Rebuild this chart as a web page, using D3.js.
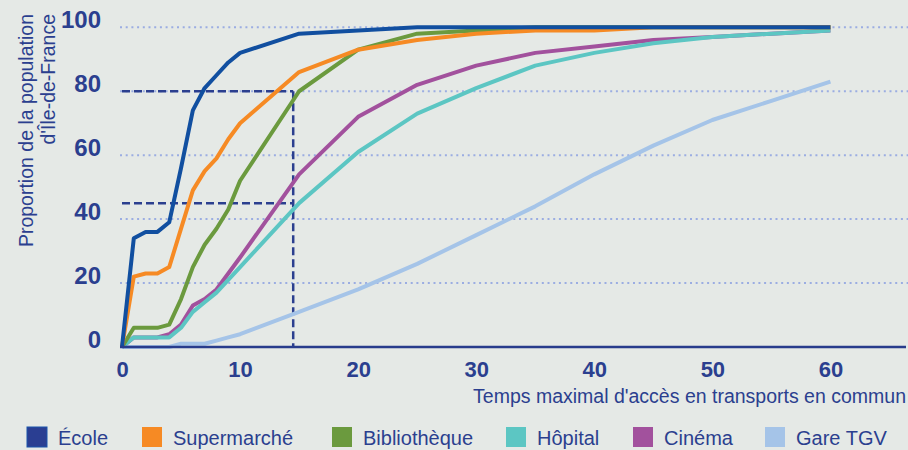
<!DOCTYPE html>
<html>
<head>
<meta charset="utf-8">
<script src="https://cdn.jsdelivr.net/npm/d3@7"></script>
<style>
  html, body { margin: 0; padding: 0; background: #e5e9e6; }
  svg { display: block; font-family: 'Liberation Sans', Arial, sans-serif; }
</style>
</head>
<body>
<svg id="chart" width="908" height="450"></svg>
<script>
// minutes d'accès
const minutes = [0, 1, 2, 3, 4, 5, 6, 7, 8, 9, 10, 15, 20, 25, 30, 35, 40, 45, 50, 55, 60]
const ecole = [0, 34, 36, 36, 39, 56, 74, 81, 85, 89, 92, 98, 99, 100, 100, 100, 100, 100, 100, 100, 100]
const supermarche = [0, 22, 23, 23, 25, 37, 49, 55, 59, 65, 70, 86, 93, 96, 98, 99, 99, 100, 100, 100, 100]
const bibliotheque = [0, 6, 6, 6, 7, 15, 25, 32, 37, 43, 52, 80, 93, 98, 99, 100, 100, 100, 100, 100, 100]
const hopital = [0, 3, 3, 3, 3, 6, 11, 14, 17, 21, 25, 45, 61, 73, 81, 88, 92, 95, 97, 98, 99]
const cinema = [0, 3, 3, 3, 4, 7, 13, 15, 18, 23, 28, 54, 72, 82, 88, 92, 94, 96, 97, 98, 99]
const gareTGV = [0, 0, 0, 0, 0, 1, 1, 1, 2, 3, 4, 11, 18, 26, 35, 44, 54, 63, 71, 77, 83]

const seriesNames = ['École', 'Supermarché', 'Bibliothèque', 'Hôpital', 'Cinéma', 'Gare TGV']
const seriesValues = [ecole, supermarche, bibliotheque, hopital, cinema, gareTGV]
const lineColors = ['#114fa0', '#f68a24', '#6b9a3e', '#5cc6c3', '#a2519d', '#a5c4e8']
const swatchColors = ['#2a3e92', '#f68a24', '#6b9a3e', '#5cc6c3', '#a2519d', '#a5c4e8']

const yTicks = [0, 20, 40, 60, 80, 100]
const xTicks = [0, 10, 20, 30, 40, 50, 60]

// lignes de lecture en pointillés
const refLevels = [80, 45]
const refMinute = 14.5

const textColor = '#2b3f8f'

const svg = d3.select('#chart')

const x = d3.scaleLinear().domain([0, 66.4]).range([122, 906])
const y = d3.scaleLinear().domain([0, 100]).range([347, 27.3])

/* grille */
svg.append('g')
  .selectAll('line')
  .data(yTicks.filter(t => t > 0))
  .join('line')
  .attr('x1', 120)
  .attr('x2', 908)
  .attr('y1', d => y(d))
  .attr('y2', d => y(d))
  .attr('stroke', '#9badE2')
  .attr('stroke-width', 2)
  .attr('stroke-dasharray', '2 3.7')

/* axe des ordonnées : étiquettes seules */
const yAxis = d3.axisLeft(y).tickValues(yTicks).tickSize(0).tickPadding(0)
const gy = svg.append('g').attr('transform', 'translate(101,0)').call(yAxis)
gy.select('.domain').remove()
gy.selectAll('text')
  .attr('fill', textColor)
  .attr('font-size', 24)
  .attr('font-weight', 'bold')
  .attr('dy', '0.02em')

/* lignes de lecture */
const ref = svg.append('g')
  .attr('stroke', '#2b3f8f')
  .attr('stroke-width', 2.5)
  .attr('stroke-dasharray', '8 4')
ref.selectAll('line.h')
  .data(refLevels)
  .join('line')
  .attr('class', 'h')
  .attr('x1', x(0))
  .attr('x2', x(refMinute))
  .attr('y1', d => y(d))
  .attr('y2', d => y(d))
ref.append('line')
  .attr('x1', x(refMinute))
  .attr('x2', x(refMinute))
  .attr('y1', y(d3.max(refLevels)))
  .attr('y2', y(0))

/* axe des abscisses */
const xAxis = d3.axisBottom(x).tickValues(xTicks).tickSize(0).tickPadding(14)
const gx = svg.append('g').attr('transform', `translate(0,${y(0)})`).call(xAxis)
gx.select('.domain').remove()
gx.selectAll('text')
  .attr('fill', textColor)
  .attr('font-size', 22)
  .attr('font-weight', 'bold')

/* courbes */
const line = d3.line()
  .x((d, i) => x(minutes[i]))
  .y(d => y(d))

const order = [5, 4, 3, 2, 1, 0]
svg.append('g')
  .selectAll('path')
  .data(order)
  .join('path')
  .attr('d', i => line(seriesValues[i]))
  .attr('fill', 'none')
  .attr('stroke', i => lineColors[i])
  .attr('stroke-width', 4)
  .attr('stroke-linejoin', 'round')

svg.append('line')
  .attr('x1', 120)
  .attr('x2', 906)
  .attr('y1', y(0))
  .attr('y2', y(0))
  .attr('stroke', '#283c8c')
  .attr('stroke-width', 2.6)

/* titres */
svg.append('text')
  .attr('x', 906)
  .attr('y', 403)
  .attr('text-anchor', 'end')
  .attr('font-size', 19.5)
  .attr('fill', textColor)
  .text("Temps maximal d'accès en transports en commun")

const yTitle = svg.append('text')
  .attr('transform', 'translate(33,14) rotate(-90)')
  .attr('text-anchor', 'end')
  .attr('font-size', 19.5)
  .attr('fill', textColor)
yTitle.append('tspan').attr('x', 0).attr('y', 0).text('Proportion de la population')
yTitle.append('tspan').attr('x', 0).attr('y', 22).text("d'Île-de-France")

/* légende */
const legendX = [27, 142, 332, 506, 633, 765]
const legend = svg.append('g')
  .selectAll('g')
  .data(seriesNames)
  .join('g')
  .attr('transform', (d, i) => `translate(${legendX[i]},427)`)
legend.append('rect')
  .attr('width', 20)
  .attr('height', 20)
  .attr('fill', (d, i) => swatchColors[i])
  .attr('stroke', (d, i) => i === 0 ? '#1a55ab' : 'none')
  .attr('stroke-width', 1)
legend.append('text')
  .attr('x', 31)
  .attr('y', 18)
  .attr('font-size', 20)
  .attr('fill', textColor)
  .text(d => d)
</script>
</body>
</html>
